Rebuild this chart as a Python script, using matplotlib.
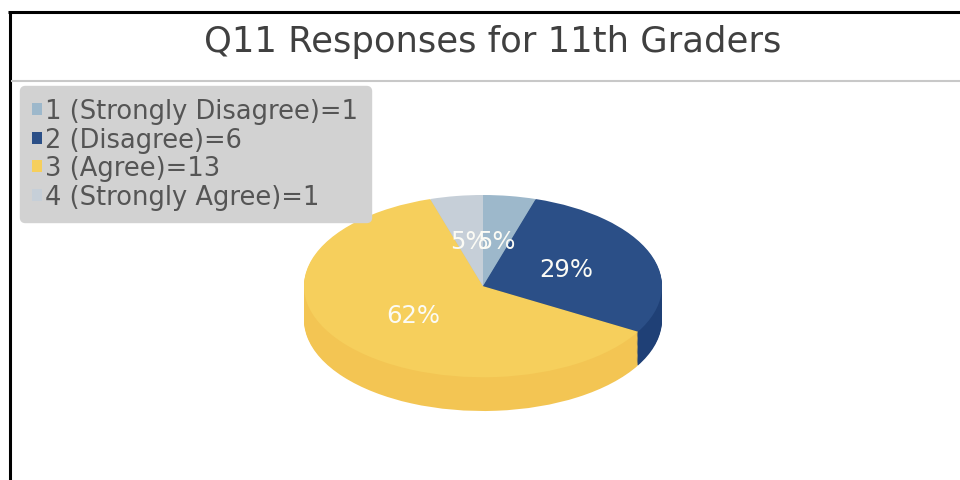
import numpy as np
import matplotlib
matplotlib.use('Agg')
import matplotlib.pyplot as plt
from matplotlib.lines import Line2D
from matplotlib.patches import Patch

title = 'Q11 Responses for 11th Graders'
categories = ['1 (Strongly Disagree)', '2 (Disagree)', '3 (Agree)', '4 (Strongly Agree)']
values = [1, 6, 13, 1]
top_colors = ['#9DB8CB', '#2B4F87', '#F6CF5C', '#C6CFD8']
side_colors = ['#8AA5B8', '#1F4076', '#F3C553', '#B5BEC7']

W, H = 960, 481
DEPTH = 0.37  # pie thickness, in units of the vertical radius

fig = plt.figure(figsize=(W / 100, H / 100), dpi=100, facecolor='white')

# pie axes, not equal aspect so the circle turns into the tilted ellipse
ax = fig.add_axes([304 / W, 1 - 412 / H, 358 / W, 216 / H])

# thickness: same pie stacked downwards
for d in np.linspace(DEPTH, 0.01, 30):
    ax.pie(values, colors=side_colors, startangle=90, counterclock=False,
           center=(0, -d), radius=1)

wedges, texts, autotexts = ax.pie(
    values, colors=top_colors, startangle=90, counterclock=False,
    autopct=lambda p: '%d%%' % round(p), pctdistance=0.5,
    textprops={'color': '#FBFBF5', 'fontsize': 17.5})
ax.set_aspect('auto')
ax.set_xlim(-1, 1)
ax.set_ylim(-1 - DEPTH, 1)

# frame and title
fig.add_artist(Line2D([9.5 / W, 9.5 / W], [0, 1 - 12 / H], color='black', lw=2.2,
                      solid_capstyle='butt'))
fig.add_artist(Line2D([8 / W, 1], [1 - 12.5 / H, 1 - 12.5 / H], color='black', lw=2.2,
                      solid_capstyle='butt'))
fig.add_artist(Line2D([11 / W, 1], [1 - 81.5 / H, 1 - 81.5 / H], color='#C8C8C8', lw=1.5,
                      solid_capstyle='butt'))
fig.text(493 / W, 1 - 42 / H, title, ha='center', va='center', fontsize=25.5, color='#404040')

# legend
handles = [Patch(facecolor=c, edgecolor='none') for c in top_colors]
labels = ['%s=%d' % (c, v) for c, v in zip(categories, values)]
leg = fig.legend(handles, labels, loc='upper left', bbox_to_anchor=(20 / W, 1 - 87 / H),
                 borderaxespad=0, frameon=True, fancybox=True, framealpha=1,
                 facecolor='#D2D2D2', edgecolor='#D2D2D2', fontsize=18.5,
                 labelcolor='#555555', handlelength=0.36, handleheight=0.36,
                 handletextpad=0.15, labelspacing=0.1, borderpad=0.48)

fig.savefig('out.png', dpi=100)
